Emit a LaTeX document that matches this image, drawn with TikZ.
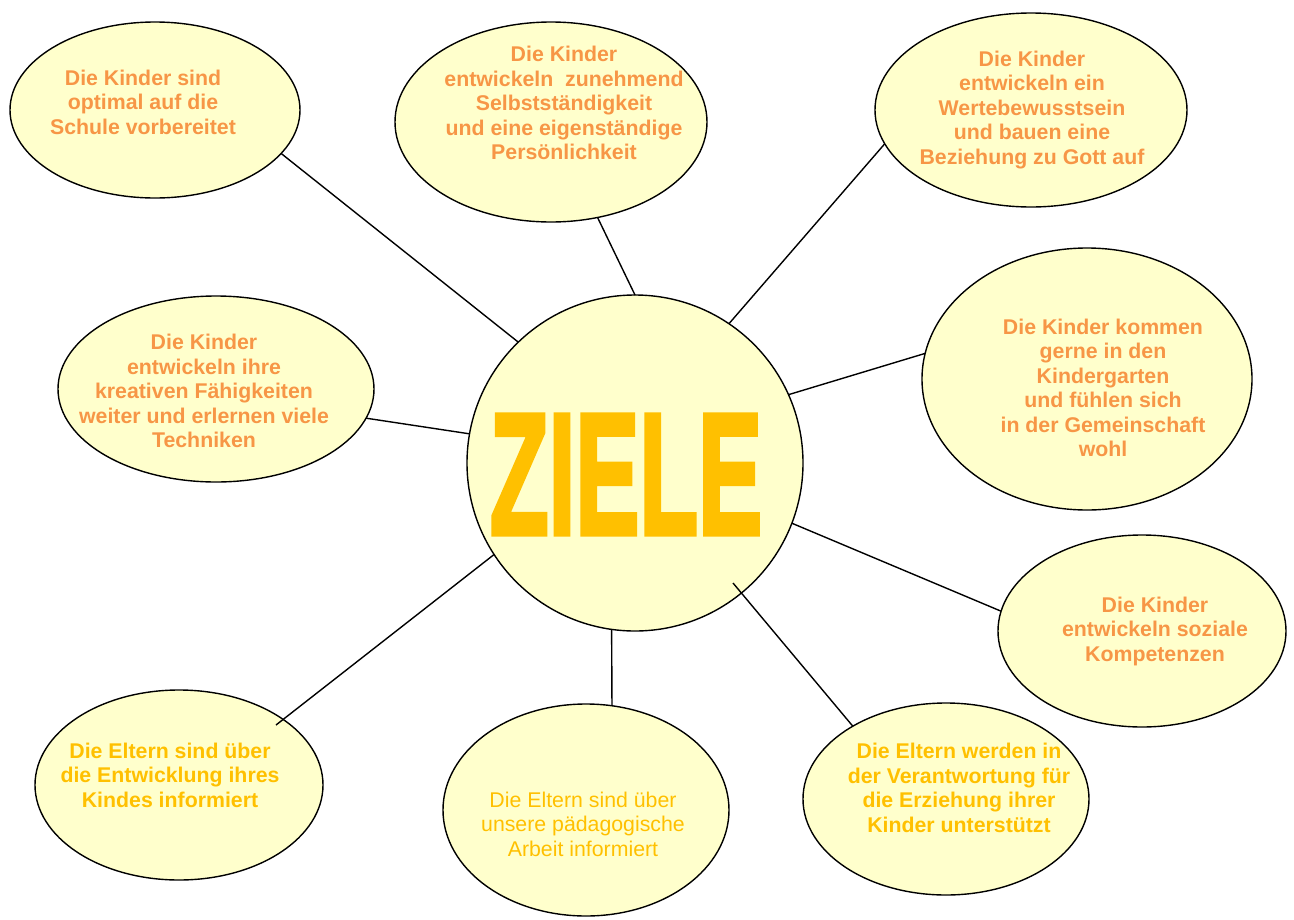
\documentclass[tikz,border=0pt]{standalone}
\usepackage{fontspec}
\setmainfont{Liberation Sans}
\newfontfamily\zielefont[FakeBold=3]{Liberation Sans}
\usepackage{graphicx}
\usetikzlibrary{shapes.geometric}
\definecolor{fillyel}{RGB}{255,255,204}
\definecolor{txtor}{RGB}{247,150,70}
\definecolor{txtgold}{RGB}{255,192,0}
\begin{document}
\begin{tikzpicture}[x=1pt,y=-1pt,
  bub/.style={ellipse, draw=black, line width=1.4pt, fill=fillyel, inner sep=0pt, outer sep=0pt},
  lbl/.style={align=center, font=\bfseries\fontsize{21.3}{24.5}\selectfont, text=txtor, inner sep=0pt},
  lblgold/.style={lbl, text=txtgold},
  link/.style={draw=black, line width=1.4pt}]
\useasboundingbox (0,0) rectangle (1294,919);
% bubbles
\node[bub, minimum width=290pt, minimum height=176pt] (e1) at (155,110) {};
\node[bub, minimum width=312pt, minimum height=200pt] (e2) at (551,122) {};
\node[bub, minimum width=312pt, minimum height=194pt] (e3) at (1031,110) {};
\node[bub, minimum width=330pt, minimum height=262pt] (e4) at (1087,379) {};
\node[bub, minimum width=316pt, minimum height=186pt] (e5) at (216,389) {};
\node[bub, circle, minimum size=336pt] (c) at (635,463) {};
\node[bub, minimum width=288pt, minimum height=192pt] (e7) at (1142,631) {};
\node[bub, minimum width=288pt, minimum height=190pt] (e8) at (179,785) {};
\node[bub, minimum width=286pt, minimum height=212pt] (e9) at (586,810) {};
\node[bub, minimum width=286pt, minimum height=192pt] (e10) at (946,799) {};
% labels
\node[lbl] (t1) at (143,102) {Die Kinder sind\\optimal auf die\\Schule vorbereitet};
\node[lbl] (t2) at (564,103) {Die Kinder\\entwickeln\ \ zunehmend\\Selbstständigkeit\\und eine eigenständige\\Persönlichkeit};
\node[lbl] (t3) at (1032,110) {Die Kinder\\entwickeln ein\\Wertebewusstsein\\und bauen eine\\Beziehung zu Gott auf};
\node[lbl] (t4) at (1103,388) {Die Kinder kommen\\gerne in den\\Kindergarten\\und fühlen sich\\in der Gemeinschaft\\wohl};
\node[lbl] (t5) at (204,391) {Die Kinder\\entwickeln ihre\\kreativen Fähigkeiten\\weiter und erlernen viele\\Techniken};
\node[lbl] (t7) at (1155,631) {Die Kinder\\entwickeln soziale\\Kompetenzen};
\node[lblgold] (t8) at (170,775) {Die Eltern sind über\\die Entwicklung ihres\\Kindes informiert};
\node[lblgold, font=\fontsize{21.3}{24.5}\selectfont] (t9) at (583,824) {Die Eltern sind über\\unsere pädagogische\\Arbeit informiert};
\node[lblgold] (t10) at (959,788) {Die Eltern werden in\\der Verantwortung für\\die Erziehung ihrer\\Kinder unterstützt};
\node[inner sep=0pt, text=txtgold, font=\zielefont\bfseries] (z) at (626,474.5) {\resizebox{272pt}{119pt}{ZIELE}};
% connectors
\draw[link] (e1.-19.3) -- (c.134.8);
\draw[link] (e2.-64.4) -- (c.90.7);
\draw[link] (e3.193.2) -- (c.56.9);
\draw[link] (e4.171.2) -- (c.24.8);
\draw[link] (e5.-11.2) -- (c.170.4);
\draw[link] (c.-21.9) -- (e7.172.4);
\draw[link] (c.213) -- ([shift={(97,-60)}]e8.center);
\draw[link] (c.262.6) -- (e9.76.8);
\draw[link] ([shift={(98,120)}]c.center) -- (e10.142.9);
\end{tikzpicture}
\end{document}
